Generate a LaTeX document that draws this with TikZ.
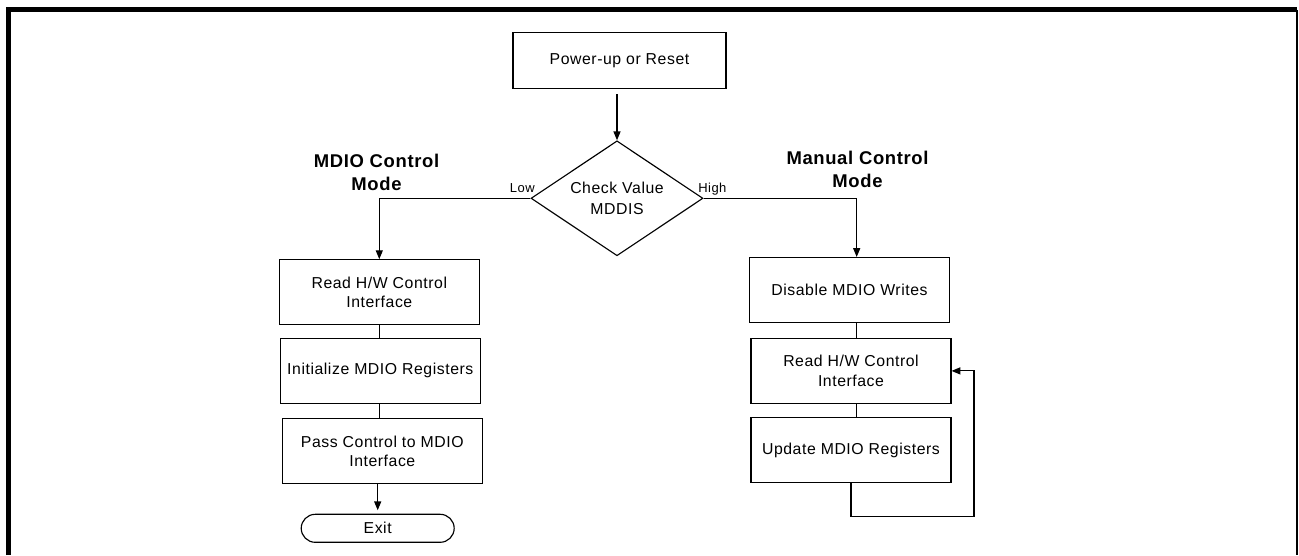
\documentclass[tikz,border=0pt]{standalone}
\usepackage{fontspec}
\setmainfont[LetterSpace=3.5]{Liberation Sans}
\usetikzlibrary{shapes.geometric,arrows.meta}
\begin{document}
\begin{tikzpicture}[x=0.02cm,y=-0.02cm,
  box/.style={draw,line width=0.65pt,minimum width=4cm,minimum height=1.3cm,
    align=center,font=\fontsize{9}{11.2}\selectfont},
  flow/.style={line width=0.65pt,-{Triangle[length=5pt,width=4pt]}},
  link/.style={line width=0.65pt},
  mode/.style={align=center,font=\bfseries\fontsize{10.5}{13.3}\selectfont},
  lvl/.style={font=\fontsize{7.4}{9}\selectfont,inner sep=0pt}]
\useasboundingbox (0,0) rectangle (1299,555);
% frame
\draw[line width=2.8pt] (8.5,555) -- (8.5,9.8) -- (1297,9.8);
\draw[line width=1.1pt] (1297,9.8) -- (1297,555);
% start and decision
\node[box,minimum width=4.26cm,minimum height=1.12cm] (pwr) at (619.5,60.5) {Power-up or Reset};
\node[draw,diamond,line width=0.65pt,minimum width=3.44cm,minimum height=2.3cm,inner sep=0pt,
  aspect=1.5,align=center,font=\fontsize{9}{11.6}\selectfont] (chk) at (617,198.3) {Check Value\\MDDIS};
\node[lvl,anchor=base east] (lo) at (535,192.6) {Low};
\node[lvl,anchor=base west] (hi) at (698,192.6) {High};
\node[mode] (mdt) at (376.5,172.3) {MDIO Control\\Mode};
\node[mode] (mnt) at (857.5,169.3) {Manual Control\\Mode};
% MDIO control branch
\node[box] (rd1) at (379.3,292.2) {Read H/W Control\\Interface};
\node[box] (ini) at (380.3,370.9) {Initialize MDIO Registers};
\node[box] (pas) at (382.3,451.2) {Pass Control to MDIO\\Interface};
\node[draw,line width=0.65pt,rounded corners=0.28cm,minimum width=3.06cm,minimum height=0.56cm,
  font=\fontsize{9}{11.2}\selectfont] (ext) at (377.7,528.3) {Exit};
% manual control branch
\node[box] (dis) at (849.5,290) {Disable MDIO Writes};
\node[box] (rd2) at (851,370.9) {Read H/W Control\\Interface};
\node[box] (upd) at (851,450) {Update MDIO Registers};
\coordinate (hc) at (856.7,198.3);
\coordinate (lp) at (974,516.7);
% connectors
\draw[flow,shorten <=3pt] (chk.north |- pwr.south) -- (chk.north);
\draw[flow] (chk.west) -| (rd1.north);
\draw[flow] (chk.east) -- (hc) -- (hc |- dis.north);
\draw[link] (rd1.south) -- (rd1.south |- ini.north);
\draw[link] (rd1.south |- ini.south) -- (rd1.south |- pas.north);
\draw[flow,shorten >=2pt] (ext.north |- pas.south) -- (ext.north);
\draw[link] (hc |- dis.south) -- (hc |- rd2.north);
\draw[link] (hc |- rd2.south) -- (hc |- upd.north);
\draw[flow] (upd.south) |- (lp) |- (rd2.east);
\end{tikzpicture}
\end{document}
